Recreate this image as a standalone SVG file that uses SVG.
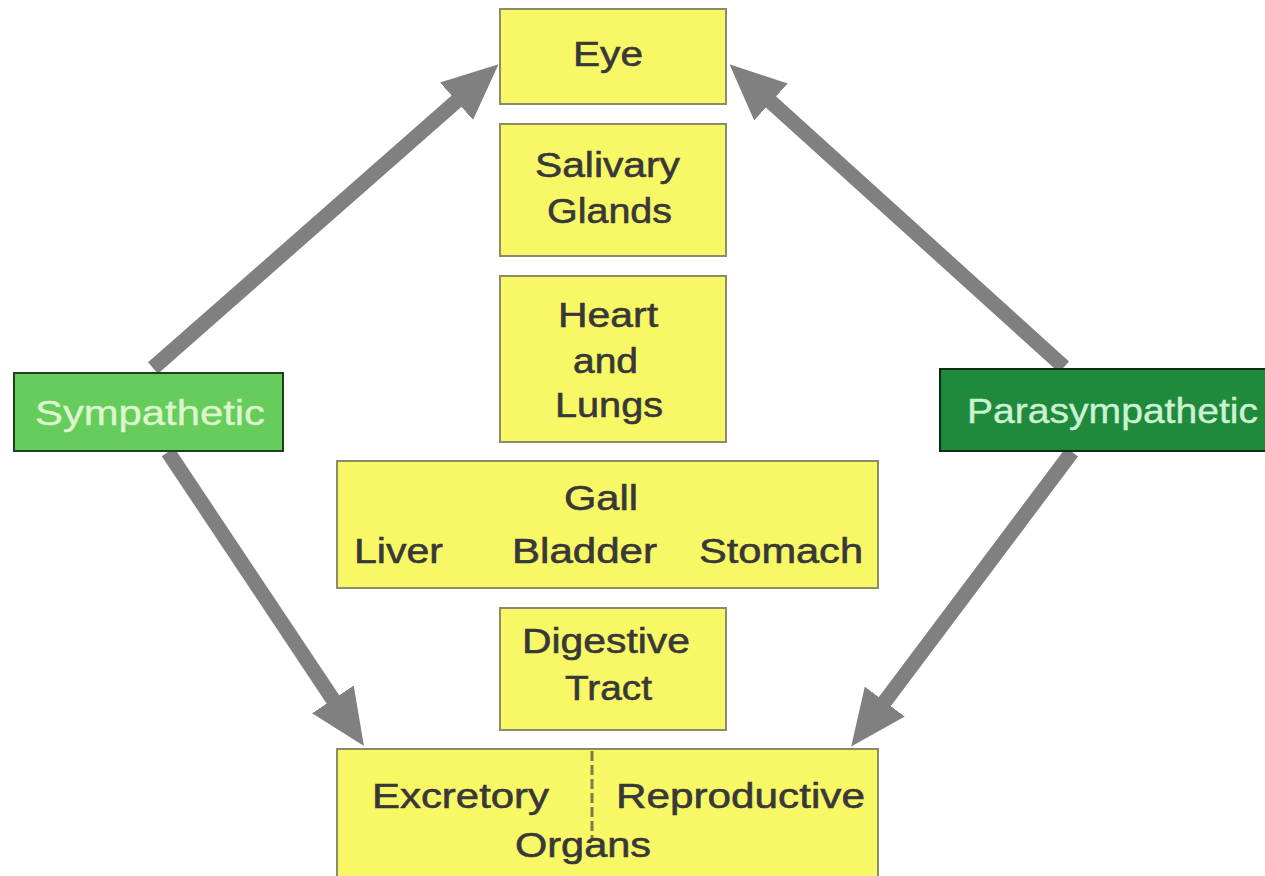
<svg xmlns="http://www.w3.org/2000/svg" width="1265" height="876" viewBox="0 0 1265 876">
<style>
.box{fill:#f8f866;stroke:#8c8c6c;stroke-width:2}
.t{font-family:"Liberation Sans",Arial,sans-serif;font-size:35px;fill:#383838;stroke:#383838;stroke-width:0.6}
.w{font-family:"Liberation Sans",Arial,sans-serif;font-size:35px;stroke-width:0.4}
.arr{stroke:#808080;stroke-width:15;fill:none;marker-end:url(#head)}
</style>
<defs>
<marker id="head" markerUnits="userSpaceOnUse" markerWidth="58" markerHeight="50" refX="2" refY="25" orient="auto">
<path d="M0,0 L56,25 L0,50 z" fill="#808080"/>
</marker>
</defs>
<rect width="1265" height="876" fill="#ffffff"/>
<g id="connectors">
<line class="arr" x1="153" y1="368" x2="458" y2="99.9"/>
<line class="arr" x1="168" y1="452" x2="334" y2="701"/>
<line class="arr" x1="1064" y1="367" x2="769.5" y2="100.6"/>
<line class="arr" x1="1072" y1="452" x2="883.6" y2="703.2"/>
</g>
<g id="eye">
<rect class="box" x="500" y="9" width="226" height="95"/>
<text class="t" x="573" y="66" textLength="70" lengthAdjust="spacingAndGlyphs">Eye</text>
</g>
<g id="salivary">
<rect class="box" x="500" y="124" width="226" height="132"/>
<text class="t" x="535" y="177" textLength="145" lengthAdjust="spacingAndGlyphs">Salivary</text>
<text class="t" x="547" y="223" textLength="125" lengthAdjust="spacingAndGlyphs">Glands</text>
</g>
<g id="heart">
<rect class="box" x="500" y="276" width="226" height="166"/>
<text class="t" x="558" y="327" textLength="100" lengthAdjust="spacingAndGlyphs">Heart</text>
<text class="t" x="573" y="373" textLength="65" lengthAdjust="spacingAndGlyphs">and</text>
<text class="t" x="555" y="417" textLength="108" lengthAdjust="spacingAndGlyphs">Lungs</text>
</g>
<g id="liver">
<rect class="box" x="337" y="461" width="541" height="127"/>
<text class="t" x="564" y="510" textLength="74" lengthAdjust="spacingAndGlyphs">Gall</text>
<text class="t" x="354" y="563" textLength="89" lengthAdjust="spacingAndGlyphs">Liver</text>
<text class="t" x="512" y="563" textLength="145" lengthAdjust="spacingAndGlyphs">Bladder</text>
<text class="t" x="699" y="563" textLength="164" lengthAdjust="spacingAndGlyphs">Stomach</text>
</g>
<g id="digestive">
<rect class="box" x="500" y="608" width="226" height="122"/>
<text class="t" x="522" y="653" textLength="168" lengthAdjust="spacingAndGlyphs">Digestive</text>
<text class="t" x="565" y="700" textLength="87" lengthAdjust="spacingAndGlyphs">Tract</text>
</g>
<g id="organs">
<rect class="box" x="337" y="749" width="541" height="140"/>
<line x1="592" y1="751" x2="592" y2="840" stroke="#7a7a50" stroke-width="3" stroke-dasharray="10,4"/>
<text class="t" x="372" y="808" textLength="177" lengthAdjust="spacingAndGlyphs">Excretory</text>
<text class="t" x="616" y="808" textLength="249" lengthAdjust="spacingAndGlyphs">Reproductive</text>
<text class="t" x="515" y="857" textLength="136" lengthAdjust="spacingAndGlyphs">Organs</text>
</g>
<g id="sympathetic">
<rect x="14" y="373" width="269" height="78" fill="#66cc5c" stroke="#1f3d1f" stroke-width="2"/>
<text class="w" x="35" y="425" textLength="230" lengthAdjust="spacingAndGlyphs" fill="#dcf7cc" stroke="#dcf7cc">Sympathetic</text>
</g>
<g id="parasympathetic">
<rect x="940" y="369" width="340" height="82" fill="#1f8a3c" stroke="#0d2a12" stroke-width="2"/>
<text class="w" x="967" y="423" textLength="291" lengthAdjust="spacingAndGlyphs" fill="#ccf2d4" stroke="#ccf2d4">Parasympathetic</text>
</g>
</svg>
